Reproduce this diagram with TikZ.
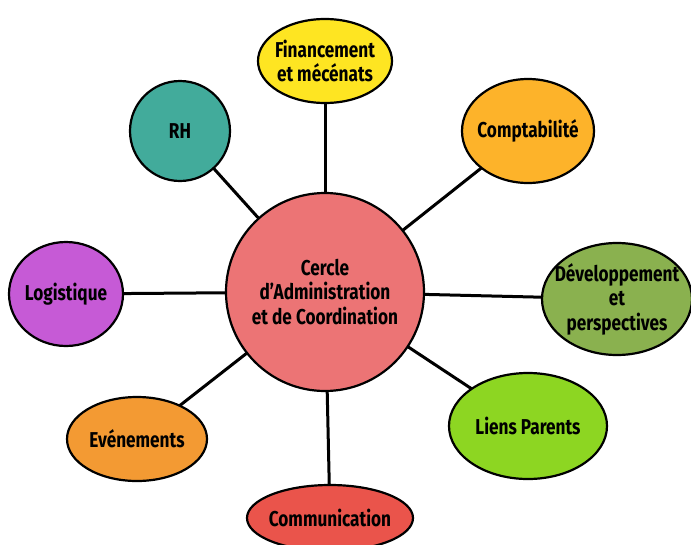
\documentclass[tikz,border=0pt]{standalone}
\usepackage{fontspec}
\setmainfont{Fira Sans}[FakeStretch=0.8]
\usetikzlibrary{shapes.geometric,backgrounds}
\definecolor{cCenter}{HTML}{EC7475}
\definecolor{cFin}{HTML}{FEE522}
\definecolor{cRH}{HTML}{42AB9B}
\definecolor{cCompta}{HTML}{FDB32A}
\definecolor{cLog}{HTML}{C65AD6}
\definecolor{cDev}{HTML}{8AB14F}
\definecolor{cEven}{HTML}{F39A33}
\definecolor{cLiens}{HTML}{8DD622}
\definecolor{cComm}{HTML}{EA544B}
\tikzset{
  bubble/.style={ellipse, draw=black, line width=2.2pt, inner sep=0pt},
  lbl/.style={inner sep=0pt, align=center, font=\fontsize{21.5}{24.5}\selectfont\bfseries},
  link/.style={draw=black, line width=3pt}
}
\begin{document}
\begin{tikzpicture}[x=1pt,y=-1pt]
\useasboundingbox (0,0) rectangle (691,544);
\clip (0,0) rectangle (691,544);
\node[bubble, fill=cCenter, minimum width=198pt, minimum height=198pt] (c) at (325,292) {};
\node[lbl] (ct) at (c.center) {Cercle\\d’Administration\\et de Coordination};
\node[bubble, fill=cFin, minimum width=134pt, minimum height=84pt] (fin) at (325,61) {};
\node[lbl] (fint) at (fin.center) {Financement\\et mécénats};
\node[bubble, fill=cRH, minimum width=100pt, minimum height=100pt] (rh) at (180,131) {};
\node[lbl] (rht) at (rh.center) {RH};
\node[bubble, fill=cCompta, minimum width=132pt, minimum height=104pt] (compta) at (528,131) {};
\node[lbl] (comptat) at (compta.center) {Comptabilité};
\node[bubble, fill=cLog, minimum width=114pt, minimum height=104pt] (log) at (66,294) {};
\node[lbl] (logt) at (log.center) {Logistique};
\node[bubble, fill=cDev, minimum width=150pt, minimum height=112pt] (dev) at (617,299) {};
\node[lbl] (devt) at (dev.center) {Développement\\et\\perspectives};
\node[bubble, fill=cEven, minimum width=140pt, minimum height=84pt] (even) at (137,439) {};
\node[lbl] (event) at (even.center) {Evénements};
\node[bubble, fill=cLiens, minimum width=158pt, minimum height=106pt] (liens) at (528,426) {};
\node[lbl] (lienst) at (liens.center) {Liens Parents};
\node[bubble, fill=cComm, minimum width=166pt, minimum height=66pt] (comm) at (330,518) {};
\node[lbl] (commt) at (comm.center) {Communication};
\begin{pgfonlayer}{background}
\foreach \n in {fin,rh,compta,log,dev,even,liens,comm}
  \draw[link] (c.center) -- (\n.center);
\end{pgfonlayer}
\end{tikzpicture}
\end{document}
